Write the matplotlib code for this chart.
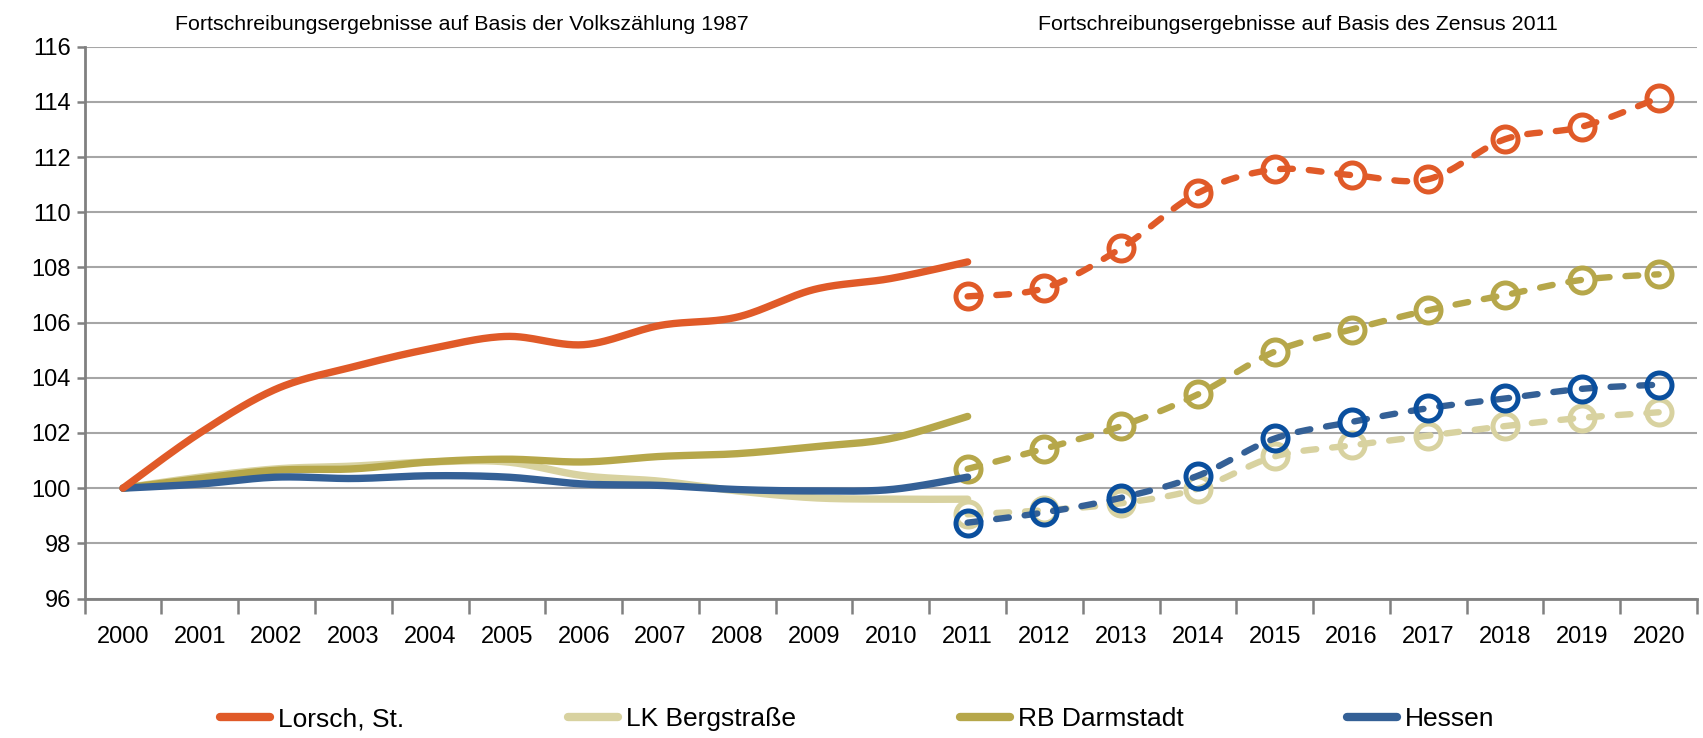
import matplotlib
matplotlib.use("Agg")
import numpy as np
from matplotlib import pyplot as plt
from matplotlib.lines import Line2D

plt.rcParams['font.family'] = ['Liberation Sans', 'DejaVu Sans']

# Jahre und Indexwerte (2000 = 100)
jahre = [str(j) for j in range(2000, 2021)]

# Fortschreibung auf Basis der Volkszaehlung 1987 (2000-2011)
lorsch_vz = [100.0, 102.0, 103.6, 104.4, 105.05, 105.5, 105.2, 105.9, 106.2, 107.2, 107.6, 108.2]
lk_vz = [100.0, 100.4, 100.7, 100.8, 100.95, 100.95, 100.45, 100.25, 99.9, 99.65, 99.6, 99.6]
rb_vz = [100.0, 100.35, 100.65, 100.7, 100.95, 101.05, 100.95, 101.15, 101.25, 101.5, 101.8, 102.6]
hessen_vz = [100.0, 100.15, 100.4, 100.35, 100.45, 100.4, 100.15, 100.1, 99.95, 99.9, 99.95, 100.4]

# Fortschreibung auf Basis des Zensus 2011 (2011-2020)
lorsch_z = [106.95, 107.25, 108.7, 110.7, 111.55, 111.35, 111.2, 112.65, 113.1, 114.15]
lk_z = [99.05, 99.2, 99.45, 99.98, 101.15, 101.55, 101.9, 102.25, 102.55, 102.75]
rb_z = [100.7, 101.43, 102.25, 103.4, 104.95, 105.75, 106.45, 107.0, 107.55, 107.75]
hessen_z = [98.75, 99.12, 99.65, 100.45, 101.8, 102.4, 102.9, 103.25, 103.6, 103.75]

serien = [
    # name, vz, zensus, linienfarbe, markerfarbe, z
    ['LK Bergstraße', lk_vz, lk_z, '#D8D2A0', '#D8D2A0', 2],
    ['RB Darmstadt', rb_vz, rb_z, '#B6A74A', '#B6A74A', 3],
    ['Hessen', hessen_vz, hessen_z, '#346096', '#0A4F9E', 4],
    ['Lorsch, St.', lorsch_vz, lorsch_z, '#E05A28', '#E05A28', 5],
]
legende_reihenfolge = ['Lorsch, St.', 'LK Bergstraße', 'RB Darmstadt', 'Hessen']


def glatt(x, y, n_seg=30):
    # geglaettete Linie (kubische Bezier-Stuecke wie Excel "Linie glaetten")
    p = np.column_stack([x, y]).astype(float)
    n = len(p)
    t = np.linspace(0, 1, n_seg)[:, None]
    teile = []
    for i in range(n - 1):
        p0 = p[i - 1] if i > 0 else p[i]
        p3 = p[i + 2] if i + 2 < n else p[i + 1]
        c1 = p[i] + (p[i + 1] - p0) / 6.0
        c2 = p[i + 1] - (p3 - p[i]) / 6.0
        b = ((1 - t) ** 3 * p[i] + 3 * (1 - t) ** 2 * t * c1
             + 3 * (1 - t) * t ** 2 * c2 + t ** 3 * p[i + 1])
        teile.append(b if i == 0 else b[1:])
    k = np.vstack(teile)
    return k[:, 0], k[:, 1]


fig = plt.figure(figsize=(17.03, 7.38), dpi=100)
ax = fig.add_axes([0.0497, 0.189, 0.9468, 0.7477])

lw_voll = 5.3
lw_gestr = 4.6
for name, vz, ze, farbe, mfarbe, z in serien:
    x1 = np.arange(len(vz))
    gx, gy = glatt(x1, vz)
    ax.plot(gx, gy, color=farbe, lw=lw_voll, solid_capstyle='round',
            solid_joinstyle='round', zorder=z)
    x2 = np.arange(11, 11 + len(ze))
    gx, gy = glatt(x2, ze)
    ax.plot(gx, gy, color=farbe, lw=lw_gestr, linestyle=(0, (2.0, 2.5)),
            dash_capstyle='round', dash_joinstyle='round', zorder=z)
    ax.plot(x2, ze, linestyle='none', marker='o', markersize=18, mfc='none',
            mec=mfarbe, mew=3.6, zorder=z + 0.5)

ax.set_xlim(-0.5, 20.5)
ax.set_ylim(96, 116)
ax.set_yticks(np.arange(96, 117, 2))
ax.set_xticks(np.arange(-0.5, 21, 1))
ax.set_xticklabels([])
ax.set_xticks(np.arange(21), minor=True)
ax.set_xticklabels(jahre, minor=True)
ax.tick_params(axis='x', which='major', length=11, width=1.8, color='#808080', direction='out')
ax.tick_params(axis='x', which='minor', length=0, pad=20, labelsize=17)
ax.tick_params(axis='y', length=6, width=1.8, color='#808080', labelsize=17, pad=4)
ax.grid(axis='y', color='#A6A6A6', lw=1.5, zorder=0)
ax.set_axisbelow(True)
for s in ['top', 'right']:
    ax.spines[s].set_visible(False)
for s in ['left', 'bottom']:
    ax.spines[s].set_color('#808080')
    ax.spines[s].set_linewidth(2)

fig.text(462 / 1703, 1 - 24 / 738, 'Fortschreibungsergebnisse auf Basis der Volkszählung 1987',
         ha='center', va='center', fontsize=15.4)
fig.text(1298 / 1703, 1 - 24 / 738, 'Fortschreibungsergebnisse auf Basis des Zensus 2011',
         ha='center', va='center', fontsize=15.4)

farben = {s[0]: s[3] for s in serien}
handles = [Line2D([], [], color=farben[n], lw=6, solid_capstyle='round') for n in legende_reihenfolge]
fig.legend(handles, legende_reihenfolge, ncol=4, loc='center left',
           bbox_to_anchor=(207 / 1703, 1 - 719 / 738), frameon=False, fontsize=19,
           handlelength=1.9, handletextpad=0.3, columnspacing=6.2, borderpad=0)

fig.savefig('out.png', dpi=100)
